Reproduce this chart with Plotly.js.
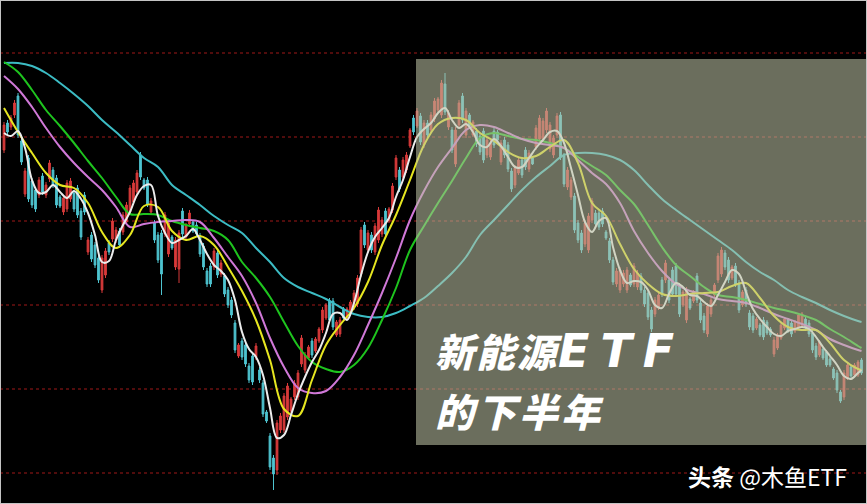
<!DOCTYPE html>
<html><head><meta charset="utf-8">
<script src="https://cdn.plot.ly/plotly-3.0.1.min.js"></script>
<style>html,body{margin:0;padding:0;background:#000;}#chart{width:867px;height:504px;}</style>
</head><body><div id="chart"></div>
<script>
// Daily bars (price units, arbitrary scale; grid every 84 units)
const N = 246;
const barIndex = Array.from({length: N}, (_, i) => i);

const open = [
354,381,377,389,408,363,310,346,323,314,
309,328,309,325,334,326,307,292,295,305,
311,316,293,309,252,269,259,246,214,229,
261,265,264,273,272,282,292,302,312,349,
324,324,292,281,269,271,270,250,267,237,
235,293,267,280,282,279,268,258,233,238,
237,251,230,228,214,204,181,148,163,159,
138,148,147,134,121,92,68,46,34,74,
74,87,93,107,107,140,134,146,163,153,
163,174,186,203,203,169,170,195,186,193,
197,200,230,279,254,269,252,264,270,293,
283,294,327,334,327,334,358,386,378,388,
359,381,374,385,394,389,420,377,374,340,
379,408,369,389,369,373,368,373,349,347,
373,372,342,364,359,333,319,331,344,354,
335,346,357,365,365,374,355,349,369,389,
348,317,307,308,281,271,260,254,284,291,
291,293,272,263,244,220,214,220,214,229,
220,217,228,214,211,194,190,196,224,224,
224,234,238,218,199,184,205,203,228,201,
188,170,190,209,224,230,251,244,226,238,
221,199,214,191,188,176,179,184,182,175,
150,156,166,176,184,181,173,176,178,185,
181,171,158,149,155,152,145,135,131,112,
107,126,137,129,129,144];

const high = [
382,384,389,404,411,366,336,349,326,317,
327,331,322,344,337,329,309,309,324,326,
314,319,296,312,267,272,262,249,249,256,
264,286,277,276,292,302,319,324,334,352,
326,327,306,284,272,274,292,284,269,267,
274,296,281,294,284,282,271,261,236,241,
256,254,244,231,217,207,184,161,166,162,
141,151,161,137,124,94,71,49,84,91,
111,121,107,124,134,169,152,159,166,167,
177,197,201,206,206,184,187,197,197,204,
214,229,277,282,274,272,281,297,287,296,
297,321,349,337,347,352,376,389,396,391,
384,384,392,406,407,424,431,394,377,377,
404,411,396,391,384,376,371,376,367,364,
376,374,364,367,362,336,339,346,347,357,
354,347,379,389,386,396,382,369,391,392,
351,337,327,311,284,274,284,291,306,294,
294,296,274,266,247,236,237,234,237,231,
241,234,231,217,214,197,207,211,227,244,
227,237,241,221,214,217,207,214,231,204,
191,201,207,221,251,257,254,247,239,241,
224,214,217,194,191,187,181,187,184,177,
167,171,181,187,186,184,184,191,192,187,
184,174,161,164,157,154,147,137,134,114,
134,141,139,141,144,146];

const low = [
351,369,374,386,366,339,307,302,296,292,
306,309,306,322,316,296,296,289,292,302,
292,286,264,289,249,242,236,221,211,226,
249,262,261,256,269,279,289,299,309,324,
314,297,289,261,241,209,267,247,254,234,
221,267,264,277,271,267,247,234,217,217,
234,226,227,207,196,186,151,146,144,137,
121,119,144,121,87,81,34,14,29,71,
71,84,91,104,104,137,131,144,146,151,
161,171,184,181,174,167,167,184,184,191,
194,197,227,256,251,251,249,261,267,267,
281,291,324,312,324,331,356,369,376,359,
356,366,371,382,392,386,389,374,351,337,
376,381,366,376,367,357,349,341,346,344,
356,362,339,346,332,312,316,329,326,334,
332,339,354,362,362,371,352,346,366,344,
317,314,304,271,261,251,257,251,281,277,
274,277,264,241,219,217,211,217,211,217,
217,214,211,197,184,172,187,194,207,221,
201,207,207,187,197,181,194,201,201,181,
171,167,187,207,221,227,234,221,224,217,
191,197,197,174,171,174,167,164,169,167,
147,154,164,174,171,167,171,174,176,174,
167,151,144,147,144,137,137,124,111,101,
104,124,126,127,127,129];

const close = [
379,372,386,401,369,342,333,305,299,295,
324,312,319,341,319,299,298,306,321,323,
295,289,267,292,264,245,239,224,246,253,
252,283,274,259,289,299,316,321,331,327,
316,300,303,264,244,230,289,281,256,264,
271,270,278,291,273,270,250,237,220,220,
253,229,241,210,199,189,154,159,147,140,
124,122,158,124,90,83,37,30,81,88,
108,118,105,121,131,166,149,157,149,165,
175,194,199,184,177,182,184,186,195,202,
211,226,274,259,271,254,278,294,284,270,
295,318,346,315,344,349,374,372,393,362,
381,369,389,403,405,421,392,391,354,374,
401,384,393,378,382,360,352,344,364,361,
359,364,361,349,335,315,336,344,329,337,
351,340,376,386,383,393,379,366,388,347,
320,334,324,274,264,254,281,288,303,280,
277,280,266,244,222,233,234,231,234,219,
238,231,214,200,187,175,204,209,210,241,
204,210,210,190,212,214,196,212,204,184,
174,198,204,219,248,254,237,224,237,220,
194,212,200,177,174,185,169,167,171,169,
164,169,179,185,173,170,182,189,190,176,
170,154,147,162,146,139,139,126,114,103,
131,139,128,139,142,131];

// Moving averages
// MA5 sampled every 2 bars, others every 4 bars (last point = last bar)
const ma5 = [
371,368,373,356,324,311,312,319,312,306,
313,305,291,269,242,243,264,279,292,309,
318,319,288,271,261,264,268,275,264,250,
239,233,224,204,172,155,147,129,96,66,
69,89,110,127,142,154,171,190,191,184,
201,229,252,267,276,286,307,324,347,367,
375,381,391,396,384,376,380,372,359,357,
365,358,347,337,337,346,356,364,372,373,
361,336,309,282,272,283,286,257,234,221,
223,222,214,199,196,210,221,217,209,208,
202,198,209,222,234,230,212,195,185,177,
170,168,173,175,177,175,167,157,148,139,
128,125,131,134];
const ma10 = [396,372,351,331,319,316,301,272,256,269,298,297,273,264,268,259,237,213,184,144,95,88,124,159,179,196,222,259,289,324,359,380,386,384,371,363,352,346,348,357,364,341,301,288,260,235,220,210,208,210,211,212,218,221,206,188,177,174,174,161,144,135,134];
const ma20 = [428,415,397,376,357,341,327,314,297,277,280,282,283,284,282,266,247,228,201,166,137,116,111,113,127,149,179,211,246,284,313,337,356,374,379,377,371,365,361,359,356,344,331,320,301,273,251,233,220,213,210,205,203,201,196,190,185,180,174,165,159,154,153];
const ma30 = [442,432,414,394,378,361,343,326,307,290,290,289,283,279,276,273,264,242,226,207,182,158,142,135,132,139,156,184,216,254,278,301,323,346,366,371,368,365,364,361,356,347,338,329,314,300,279,257,239,228,217,209,207,204,200,196,193,189,184,175,167,158,156];
const ma60 = [441,441,438,431,421,410,398,384,372,359,346,337,319,309,299,288,279,271,256,242,226,217,211,205,197,190,187,187,191,198,206,218,231,247,269,284,299,314,327,338,349,351,351,349,344,334,319,305,294,284,274,264,254,242,232,224,214,207,201,194,188,183,182];

const titleLine1 = '新能源ETF';
const titleLine2 = '的下半年';
const watermarkBold = '头条';
const watermarkRest = '@木鱼ETF';

const maX = (arr, step) => arr.map((_, k) => Math.min(k * step, N - 1));
const maLine = (arr, step, color) => ({
  type: 'scatter', mode: 'lines', x: maX(arr, step), y: arr,
  line: {color: color, width: 2, shape: 'spline', smoothing: 1},
  hoverinfo: 'skip'
});

const traces = [
  {type: 'candlestick', x: barIndex, open: open, high: high, low: low, close: close,
   increasing: {line: {color: '#d83a3a', width: 1}, fillcolor: '#d83a3a'},
   decreasing: {line: {color: '#4ec4d0', width: 1}, fillcolor: '#4ec4d0'},
   whiskerwidth: 0, hoverinfo: 'skip'},
  maLine(ma60, 4, '#3cbcc4'),
  maLine(ma30, 4, '#1ec41e'),
  maLine(ma20, 4, '#d078d8'),
  maLine(ma10, 4, '#e6e620'),
  maLine(ma5, 2, '#ececec')
];

// price grid: dotted dark-red lines every 84 units starting at 31
const gridStart = 31, gridStep = 84, yMax = 504;
const gridShapes = [];
for (let v = gridStart; v < yMax; v += gridStep) {
  gridShapes.push({type: 'line', xref: 'paper', yref: 'y', x0: 0, x1: 1, y0: v, y1: v,
                   line: {color: '#a01818', width: 1, dash: 'dot'}, layer: 'below'});
}

const layout = {
  width: 867, height: 504, margin: {l: 0, r: 0, t: 0, b: 0},
  paper_bgcolor: '#000', plot_bgcolor: '#000', showlegend: false,
  xaxis: {range: [-1.143, 246.57], showgrid: false, zeroline: false, showticklabels: false,
          ticks: '', showline: false, rangeslider: {visible: false}, fixedrange: true},
  yaxis: {range: [0, yMax], showgrid: false, zeroline: false, showticklabels: false, ticks: '',
          fixedrange: true},
  shapes: gridShapes.concat([
    {type: 'rect', xref: 'paper', yref: 'paper', x0: 416/867, x1: 1, y0: 1 - 445/504, y1: 1 - 59/504,
     fillcolor: 'rgba(188,193,163,0.57)', line: {width: 0}, layer: 'above'},
    {type: 'rect', xref: 'paper', yref: 'paper', x0: 0, x1: 1, y0: 0, y1: 1,
     line: {color: '#c4c4c4', width: 2}, layer: 'above'}
  ]),
  annotations: [
    {xref: 'paper', yref: 'paper', x: 0.499, y: 1 - 350/504, xanchor: 'left', yanchor: 'middle',
     showarrow: false,
     text: '<span style="letter-spacing:2px">' + titleLine1.slice(0, 3) + '</span><span style="font-family:\'DejaVu Sans\';font-size:46px;letter-spacing:11px">' + titleLine1.slice(3) + '</span>',
     font: {family: '"Noto Sans CJK SC"', size: 39, color: '#ffffff', weight: 900, style: 'italic'}},
    {xref: 'paper', yref: 'paper', x: 0.499, y: 1 - 410/504, xanchor: 'left', yanchor: 'middle',
     showarrow: false,
     text: '<span style="letter-spacing:3px">' + titleLine2 + '</span>',
     font: {family: '"Noto Sans CJK SC"', size: 39, color: '#ffffff', weight: 900, style: 'italic'}},
    {xref: 'paper', yref: 'paper', x: 686/867, y: 1 - 476/504, xanchor: 'left', yanchor: 'middle',
     showarrow: false,
     text: '<b>' + watermarkBold + '</b> ' + watermarkRest,
     font: {family: '"Noto Sans CJK SC"', size: 23, color: '#ffffff'}}
  ]
};

Plotly.newPlot('chart', traces, layout, {staticPlot: true, displayModeBar: false});
</script>
</body></html>
